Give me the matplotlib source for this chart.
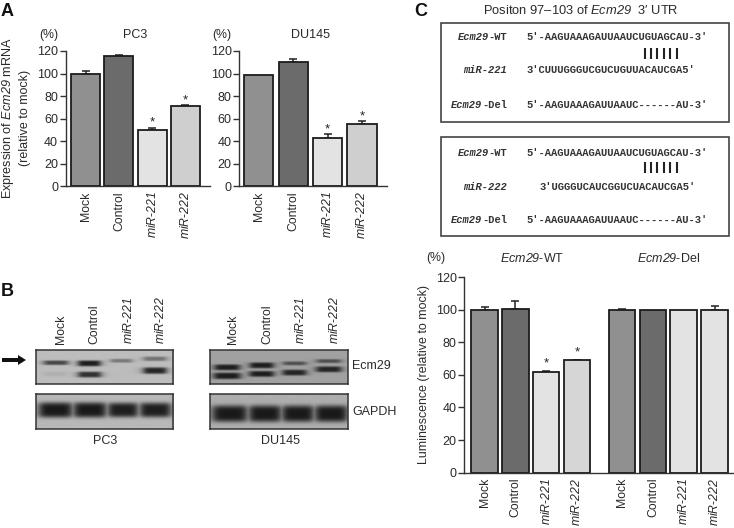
import numpy as np
import matplotlib
matplotlib.use("Agg")
import matplotlib.pyplot as plt
from matplotlib.patches import Rectangle, FancyArrow

plt.rcParams['font.family'] = ['Liberation Sans', 'DejaVu Sans']
plt.rcParams['mathtext.fontset'] = 'custom'
plt.rcParams['mathtext.rm'] = 'Liberation Sans'
plt.rcParams['mathtext.it'] = 'Liberation Sans:italic'
plt.rcParams['mathtext.cal'] = 'Liberation Sans:italic'
plt.rcParams['mathtext.bf'] = 'Liberation Sans:bold'

W, H = 734, 528
TXT = '#2a2a2a'

categories = ['Mock', 'Control', '$\\mathcal{miR}$-$\\mathcal{221}$', '$\\mathcal{miR}$-$\\mathcal{222}$']
yticks = [0, 20, 40, 60, 80, 100, 120]

pc3_vals = [100, 115.5, 50, 71]
pc3_errs = [2.5, 0.8, 2, 0.8]
pc3_stars = [False, False, True, True]
du_vals = [99, 110.5, 43, 55]
du_errs = [0, 2, 3, 2.5]
du_stars = [False, False, True, True]
wt_vals = [100, 100.5, 61.5, 69]
wt_errs = [1.5, 5, 0.7, 0.2]
wt_stars = [False, False, True, True]
del_vals = [100, 99.5, 99.5, 100]
del_errs = [0.5, 0, 0, 2]

colors_a = ['#909090', '#6b6b6b', '#e3e3e3', '#cfcfcf']
colors_wt = ['#909090', '#6b6b6b', '#e3e3e3', '#d6d6d6']
colors_del = ['#909090', '#6b6b6b', '#e3e3e3', '#e3e3e3']

fig = plt.figure(figsize=(W / 100, H / 100), dpi=100)


def axpx(x0, y0, x1, y1, **kw):
    return fig.add_axes([x0 / W, 1 - y1 / H, (x1 - x0) / W, (y1 - y0) / H], **kw)


def bars(ax, xs, vals, errs, cols, width, stars=None):
    ax.bar(xs, vals, width=width, color=cols, edgecolor='#1c1c1c', linewidth=1.3, zorder=2)
    for x, v, e in zip(xs, vals, errs):
        if e > 0:
            ax.errorbar(x, v, yerr=[[0], [e]], color='#222222', capsize=3.2, elinewidth=1.1,
                        capthick=1.1, zorder=1)
    if stars:
        for x, v, e, s in zip(xs, vals, errs, stars):
            if s:
                ax.text(x, v + e + 4.6, '*', ha='center', va='center', fontsize=9.5, color='#222222')


def style(ax, xs, labels, xlim):
    ax.set_xlim(*xlim)
    ax.set_ylim(0, 120)
    for s in ('top', 'right'):
        ax.spines[s].set_visible(False)
    for s in ('left', 'bottom'):
        ax.spines[s].set_linewidth(1.0)
        ax.spines[s].set_color('#333333')
    ax.set_yticks(yticks)
    ax.set_xticks(xs)
    ax.set_xticklabels(labels, rotation=90, fontsize=8.8, color=TXT)
    ax.tick_params(axis='x', length=0, pad=3.5)
    ax.tick_params(axis='y', length=4, width=1, labelsize=9, pad=1.5, labelcolor=TXT, color='#333333')
    ax.patch.set_alpha(0)


# Panel A
x4 = np.arange(4)
a1 = axpx(65.7, 51, 210, 186.3)
bars(a1, x4, pc3_vals, pc3_errs, colors_a, 0.875, pc3_stars)
style(a1, x4, categories, (-0.607, 3.75))
a2 = axpx(239.3, 51, 387, 186.3)
bars(a2, x4, du_vals, du_errs, colors_a, 0.85, du_stars)
style(a2, x4, categories, (-0.567, 3.73))

# Panel C chart
group_offset = 4.47
x_wt = x4
x_del = x4 + group_offset
c = axpx(464.3, 277, 733, 472.7)
bars(c, x_wt, wt_vals, wt_errs, colors_wt, 0.865, wt_stars)
bars(c, x_del, del_vals, del_errs, colors_del, 0.865)
style(c, np.r_[x_wt, x_del], categories * 2, (-0.656, 8.07))

# Blots: band centre x, half width, y, half thickness, strength (zoomed blot px /3)
pc3_top_bands = [(166, 37, 262, 7, .72), (165, 35, 296, 7, .08), (266, 34, 264, 9, .97), (267, 35, 298, 9, .85),
                 (362, 33, 256, 6, .42), (463, 35, 250, 7, .45), (463, 35, 286, 10, .92)]
pc3_bot_bands = [(165, 50, 405, 23, 1.), (268, 49, 405, 23, 1.), (367, 45, 405, 22, .97), (464, 46, 405, 22, .97)]
du_top_bands = [(682, 38, 276, 9, .97), (682, 40, 302, 10, .98), (786, 36, 270, 9, .97), (786, 37, 296, 9, .97),
                (885, 35, 264, 6, .6), (885, 36, 292, 9, .92), (988, 37, 257, 6, .6), (988, 38, 282, 9, .92)]
du_bot_bands = [(690, 52, 416, 25, 1.), (796, 48, 416, 25, 1.), (895, 47, 416, 25, 1.), (995, 48, 416, 25, 1.)]


def blot(x0, y0, x1, y1, bands, bg, dark=0.1):
    ax = axpx(x0 / 3, 275 + y0 / 3, x1 / 3, 275 + y1 / 3)
    xx, yy = np.meshgrid(np.linspace(x0, x1, 220), np.linspace(y0, y1, 70))
    ink = np.zeros_like(xx)
    for cx, hw, cy, ht, s in bands:
        prof_x = 1 / (1 + ((xx - cx) / hw) ** 6)
        prof_y = np.exp(-((yy - cy) / ht) ** 4)
        ink = np.maximum(ink, s * prof_x * prof_y)
    img = bg * (1 - ink) + dark * ink
    ax.imshow(img, cmap='gray', vmin=0, vmax=1, aspect='auto', interpolation='bilinear')
    ax.set_xticks([])
    ax.set_yticks([])
    for s in ax.spines.values():
        s.set_linewidth(1.1)
        s.set_color('#333333')


blot(107, 224, 519, 326, pc3_top_bands, 0.74)
blot(107, 358, 519, 461, pc3_bot_bands, 0.72)
blot(631, 224, 1045, 326, du_top_bands, 0.63)
blot(631, 358, 1045, 461, du_bot_bands, 0.68)

# Overlay in pixel coordinates for annotations
ov = fig.add_axes([0, 0, 1, 1], zorder=10)
ov.set_xlim(0, W)
ov.set_ylim(H, 0)
ov.axis('off')
ov.patch.set_alpha(0)


def t(x, y, s, size=9, ha='center', va='center', **kw):
    kw.setdefault('color', TXT)
    ov.text(x, y, s, fontsize=size, ha=ha, va=va, **kw)


for x, y, s in [(1, 11, 'A'), (1, 291, 'B'), (414, 11, 'C')]:
    t(x, y, s, size=13, ha='left', weight='bold', color='#111111')

t(49, 35, '(%)', 8.8)
t(135, 35, 'PC3', 9)
t(222, 35, '(%)', 8.8)
t(311, 35, 'DU145', 9)
t(8, 118, 'Expression of $\\mathcal{Ecm29}$ mRNA', 9.1, rotation=90)
t(25, 118, '(relative to mock)', 9, rotation=90)

t(581, 11, 'Positon 97\u2013103 of $\\mathcal{Ecm29}$  3\u2032 UTR', 9.3)
t(436, 258, '(%)', 8.8)
t(532, 258, '$\\mathcal{Ecm29}$-WT', 9)
t(669, 258, '$\\mathcal{Ecm29}$-Del', 9)
t(424, 375, 'Luminescence (relative to mock)', 8.9, rotation=90)

# Blot labels
for x, s in zip([61, 94, 128, 161], categories):
    t(x, 344, s, 8.8, rotation=90, va='bottom')
for x, s in zip([233, 267, 301, 334], categories):
    t(x, 344, s, 8.8, rotation=90, va='bottom')
t(105, 441, 'PC3', 9)
t(280, 441, 'DU145', 9)
t(352, 366, 'Ecm29', 9, ha='left')
t(352, 412, 'GAPDH', 9, ha='left')
ov.add_patch(FancyArrow(2, 360, 24, 0, width=4, head_width=10, head_length=8,
                        length_includes_head=True, color='#111111', lw=0))

# Sequence boxes
wt_seq = "5\u2032-AAGUAAAGAUUAAUCUGUAGCAU-3\u2032"
del_seq = "5\u2032-AAGUAAAGAUUAAUC------AU-3\u2032"
seq_221 = "3\u2032CUUUGGGUCGUCUGUUACAUCGA5\u2032"
seq_222 = "3\u2032UGGGUCAUCGGUCUACAUCGA5\u2032"
pair_count = 6
CH = 6.25  # label character advance in px at the size below


def seqbox(y0, mir_name, mir_seq, mir_x, r1, r2, r3):
    ov.add_patch(Rectangle((440.5, y0), 288.5, 99, fc='white', ec='#444444', lw=1.2))
    mono = dict(family=['Liberation Mono'], weight='bold', color='#333333')
    t(507, y0 + r1, '-WT', 7.5, ha='right', **mono)
    t(507 - 3 * CH + 0.5, y0 + r1, 'Ecm29', 7.5, ha='right', style='italic', **mono)
    t(507, y0 + r2, mir_name, 7.5, ha='right', style='italic', **mono)
    t(507, y0 + r3, '-Del', 7.5, ha='right', **mono)
    t(507 - 4 * CH + 0.5, y0 + r3, 'Ecm29', 7.5, ha='right', style='italic', **mono)
    t(526.5, y0 + r1, wt_seq, 7.6, ha='left', **mono)
    t(mir_x, y0 + r2, mir_seq, 7.6, ha='left', **mono)
    t(526.5, y0 + r3, del_seq, 7.6, ha='left', **mono)
    xs = 644.5 + np.arange(pair_count) * 6.4
    ov.vlines(xs, y0 + 24.5, y0 + 35.5, color='#222222', lw=1.5)


seqbox(23, 'miR-221', seq_221, 526.5, 14.5, 47, 82)
seqbox(137, 'miR-222', seq_222, 539.5, 15.5, 50.5, 83)

fig.savefig('out.png', dpi=100)
